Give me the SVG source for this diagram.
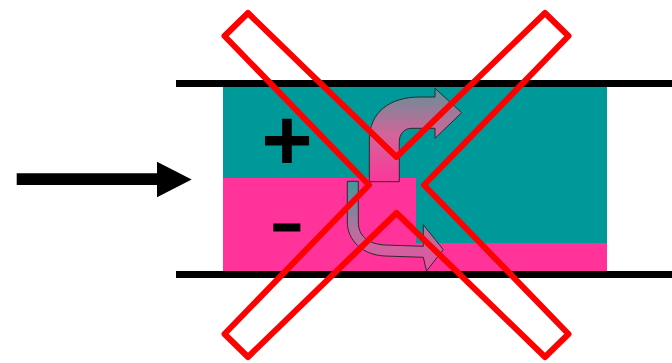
<svg xmlns="http://www.w3.org/2000/svg" width="672" height="363" viewBox="0 0 672 363">
  <defs>
    <linearGradient id="gUp" x1="0" y1="0" x2="0" y2="1">
      <stop offset="0" stop-color="#5f9298"/>
      <stop offset="0.5" stop-color="#d4649a"/>
      <stop offset="1" stop-color="#fb3799"/>
    </linearGradient>
    <linearGradient id="gDown" x1="0" y1="0" x2="0" y2="1">
      <stop offset="0" stop-color="#3f9a9c"/>
      <stop offset="0.55" stop-color="#b8709e"/>
      <stop offset="1" stop-color="#ec50a0"/>
    </linearGradient>
  </defs>
  <style>
    .wall { stroke: #000; stroke-width: 7; }
    .teal { fill: #009999; }
    .pink { fill: #ff3399; }
    .sign { font-family: "Liberation Sans", Arial, sans-serif; font-weight: bold; fill: #000; text-anchor: middle; }
    .bend { stroke: #2a2a2a; stroke-width: 1; stroke-linejoin: round; }
    .cross { fill: none; stroke: #ff0000; stroke-width: 6; stroke-linejoin: round; }
  </style>

  <g id="fluid">
    <rect class="teal" x="223" y="87" width="384" height="184"/>
    <rect class="pink" x="223" y="178" width="193" height="93"/>
    <rect class="pink" x="416" y="243" width="191" height="28"/>
  </g>

  <g id="pipe">
    <line class="wall" x1="176" y1="83.5" x2="672" y2="83.5"/>
    <line class="wall" x1="176" y1="274.5" x2="672" y2="274.5"/>
  </g>

  <g id="plus">
    <text class="sign" x="287" y="170" font-size="88">+</text>
  </g>
  <g id="minus">
    <text class="sign" x="0" y="0" font-size="40" stroke="#000" stroke-width="3" transform="translate(287,238.2) scale(2.05,1)">-</text>
  </g>

  <g id="upper-arrow">
    <path class="bend" fill="url(#gUp)" d="M369.3,181.7 L369.3,140 C369.3,112 390,97 420,97 L435,97 L435,88.3 L461.7,112.7 L435,138.3 L435,128.3 L412,128.3 C404,128.3 399.3,134 399.3,142 L399.3,181.7 Z"/>
  </g>

  <g id="lower-arrow">
    <path class="bend" fill="url(#gDown)" d="M347.3,181.3 L358.3,181.3 L358.3,222 C358.3,236 368,244 385,245 L423.3,246.3 L423.3,224.7 L443.3,249.7 L426.5,271 L423.3,257.3 L385,256 C362,255 347.3,240 347.3,222 Z"/>
  </g>

  <g id="connectors">
    <polygon fill="#000" points="16.7,173.3 157,173.3 157,161.7 191.7,179.5 157,197.3 157,185 16.7,185"/>
  </g>

  <g id="cross">
    <polygon class="cross" points="248,13 396.5,157 545,13 568.5,36 424,185 568.5,334 545,357 396.5,213 248,357 224.5,334 369,185 224.5,36"/>
  </g>
</svg>
